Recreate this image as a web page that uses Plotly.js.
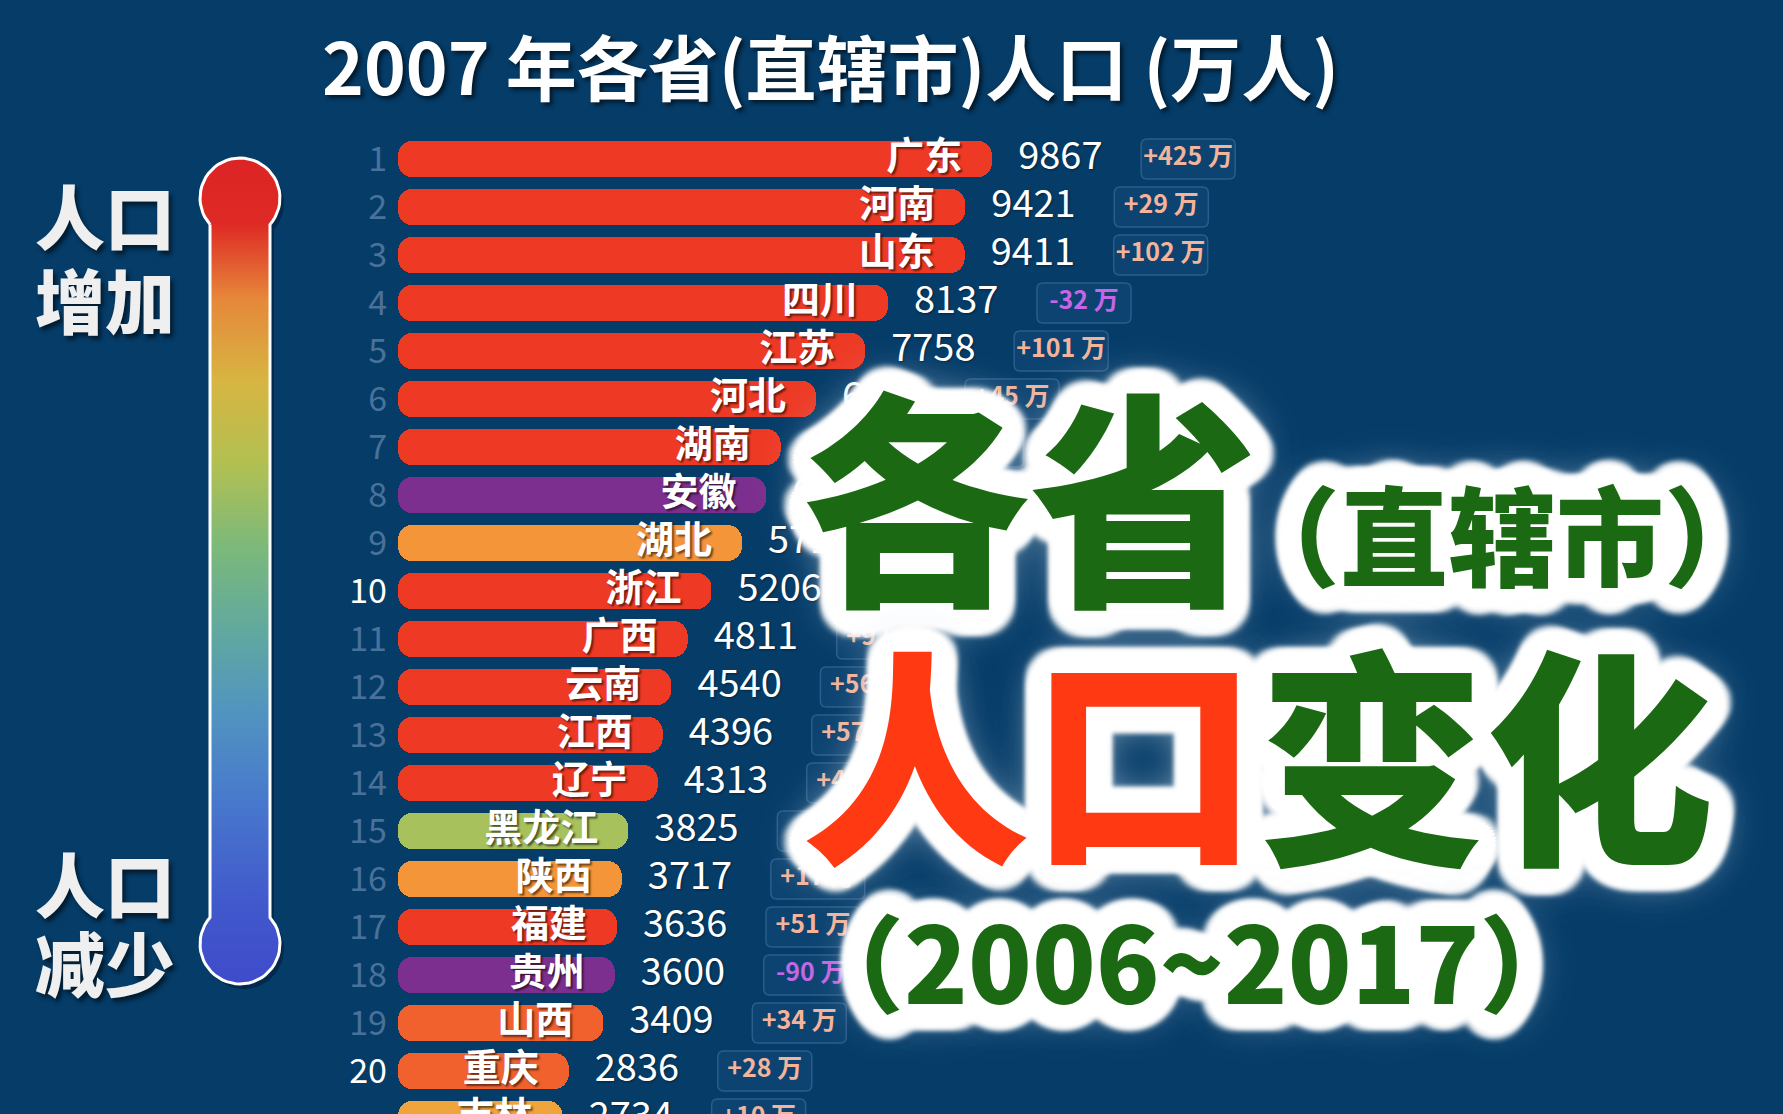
<!DOCTYPE html>
<html><head><meta charset="utf-8">
<script src="https://cdn.plot.ly/plotly-3.0.1.min.js"></script>
<style>html,body{margin:0;padding:0;background:#053c68;overflow:hidden}#chart{width:1783px;height:1114px}</style>
</head><body><div id="chart"></div>
<script>
// ---------- data ----------
const ranks = [1,2,3,4,5,6,7,8,9,10,11,12,13,14,15,16,17,18,19,20,21];
const provinces = ['广东','河南','山东','四川','江苏','河北','湖南','安徽','湖北','浙江','广西','云南','江西','辽宁','黑龙江','陕西','福建','贵州','山西','重庆','吉林'];
const population = [9867,9421,9411,8137,7758,6943,6355,6118,5711,5206,4811,4540,4396,4313,3825,3717,3636,3600,3409,2836,2734];
const change = [425,29,102,-32,101,45,13,8,18,134,92,56,57,42,2,17,51,-90,34,28,10];
const titleText = '2007 年各省(直辖市)人口 (万人)';

// ---------- style ----------
const RED='#ee3a25', PUR='#7d2f8f', ORA='#f4953a', OLV='#a7c15c', ORR='#f0612e', LOR='#f0a43c';
const barColors = [RED,RED,RED,RED,RED,RED,RED,PUR,ORA,RED,RED,RED,RED,RED,OLV,ORA,RED,PUR,ORR,ORR,LOR];
const BG = '#053c68';
const FONT = '"Noto Sans CJK SC","Noto Sans",sans-serif';
const W = 1783, H = 1114;
const X0PX = 398;                 // left edge of the bar area
const XMAX = 23000;
const PX = (W - X0PX) / XMAX;     // pixels per unit

// ---------- traces ----------
// each bar = two overlapping pieces so both ends get rounded corners
const barA = {type:'bar', orientation:'h', y:ranks, x:population.map(v => 0.7*v), base:population.map(v => 0.3*v), width:0.76,
  marker:{color:barColors, cornerradius:15, line:{width:0}}, hoverinfo:'skip', xaxis:'x', yaxis:'y'};
const barB = {type:'bar', orientation:'h', y:ranks, x:population.map(v => -0.7*v), base:population.map(v => 0.7*v), width:0.76,
  marker:{color:barColors, cornerradius:15, line:{width:0}}, hoverinfo:'skip', xaxis:'x', yaxis:'y'};

const names = {type:'scatter', mode:'text', y:ranks, x:population.map(v => v - 30/PX),
  text:provinces, textposition:'middle left', hoverinfo:'skip',
  textfont:{family:FONT, size:38, color:'#ffffff', weight:700, shadow:'2px 2px 2px rgba(0,0,0,0.55)'}};
const values = {type:'scatter', mode:'text', y:ranks, x:population.map(v => v + 26/PX),
  text:population.map(String), textposition:'middle right', hoverinfo:'skip',
  textfont:{family:FONT, size:38, color:'#ffffff', weight:400, shadow:'1px 1px 2px rgba(0,0,0,0.4)'}};
const changes = {type:'scatter', mode:'text', y:ranks, x:population.map(v => v + 196/PX),
  text:change.map(c => (c > 0 ? '+' : '') + c + ' 万'), textposition:'middle center', hoverinfo:'skip',
  textfont:{family:FONT, size:25, weight:700, color:change.map(c => c >= 0 ? '#f3b49b' : '#c566e6')}};

// legend thermometer (decorative geometry on its own pixel axes)
const cx=240, cyT=198, cyB=944, R=40, w=30, h=Math.sqrt(R*R-w*w), phi=Math.atan2(h,w);
const tx=[], ty=[];
for (let i=0;i<=40;i++){const t=(Math.PI-phi)+i*((Math.PI+2*phi)/40); tx.push(cx+R*Math.cos(t)); ty.push(cyT+R*Math.sin(t));}
for (let i=0;i<=40;i++){const t=-phi+i*((Math.PI+2*phi)/40); tx.push(cx+R*Math.cos(t)); ty.push(cyB+R*Math.sin(t));}
tx.push(tx[0]); ty.push(ty[0]);
const thermoShadow = {type:'scatter', mode:'lines', x:tx.map(v=>v+4), y:ty.map(v=>v+5), fill:'toself',
  fillcolor:'rgba(0,10,30,0.35)', line:{width:0}, xaxis:'x2', yaxis:'y2', hoverinfo:'skip'};
const thermo = {type:'scatter', mode:'lines', x:tx, y:ty, fill:'toself', xaxis:'x2', yaxis:'y2', hoverinfo:'skip',
  line:{color:'#ffffff', width:3},
  fillgradient:{type:'vertical', start:cyT-R, stop:cyB+R, colorscale:[
    [0,'#dc2424'],[0.08,'#de2a25'],[0.17,'#e6873a'],[0.27,'#d7b542'],[0.37,'#b2c052'],[0.47,'#7cb97a'],
    [0.57,'#61a99e'],[0.67,'#5194c0'],[0.78,'#4878cd'],[0.9,'#4159cc'],[1,'#3f4bcb']]}};

// ---------- boxes behind change labels ----------
function rr(x0,x1,y0,y1,r){return `M${x0+r},${y0} L${x1-r},${y0} Q${x1},${y0} ${x1},${y0+r} L${x1},${y1-r} Q${x1},${y1} ${x1-r},${y1} L${x0+r},${y1} Q${x0},${y1} ${x0},${y1-r} L${x0},${y0+r} Q${x0},${y0} ${x0+r},${y0} Z`;}
const shapes = population.map((v,i) => ({type:'path', layer:'below', xref:'x', yref:'y',
  xsizemode:'pixel', ysizemode:'pixel', xanchor:v, yanchor:ranks[i],
  path:rr(149,243,-20,20,6), fillcolor:'rgba(120,170,220,0.07)', line:{color:'#2b5d8c', width:1.5}}));

// ---------- overlay text ----------
function ring(r,n,blur,col){const a=[];for(let k=0;k<n;k++){const t=2*Math.PI*k/n;a.push(`${(r*Math.cos(t)).toFixed(1)}px ${(r*Math.sin(t)).toFixed(1)}px ${blur}px ${col}`);}return a;}
const glow = [].concat(ring(6,16,0,'#fff'), ring(12,24,0,'#fff'), ring(18,32,1,'#fff'),
  ring(24,32,6,'rgba(255,255,255,0.85)'),
  ['0 0 30px rgba(225,235,245,0.95)','0 0 45px rgba(210,225,240,0.9)','0 0 60px rgba(200,218,236,0.7)']).join(',');
const GREEN='#1b6a13', ORED='#ff3a12';
const big = [
  {t:'各省', x:1030, y:490, s:228},
  {t:'（直辖市）', x:1502, y:531, s:108},
  {t:'人口变化', x:1258, y:748, s:228, rich:`<span style="color:${ORED}">人口</span>变化`},
  {t:'（2006~2017）', x:1192, y:958, s:105},
];
const ann = [];
big.forEach(b => ann.push({xref:'paper', yref:'paper', x:b.x/W, y:1-b.y/H, xanchor:'center', yanchor:'middle',
  showarrow:false, text:b.t, font:{family:FONT, size:b.s, weight:900, color:'#ffffff', shadow:glow}}));
big.forEach(b => ann.push({xref:'paper', yref:'paper', x:b.x/W, y:1-b.y/H, xanchor:'center', yanchor:'middle',
  showarrow:false, text:b.rich || b.t, font:{family:FONT, size:b.s, weight:900, color:GREEN}}));

// title
ann.unshift({xref:'paper', yref:'paper', x:830/W, y:1-64/H, xanchor:'center', yanchor:'middle', showarrow:false,
  text:titleText, font:{family:FONT, size:71, weight:700, color:'#ffffff', shadow:'3px 3px 4px rgba(0,0,0,0.6)'}});
// legend labels
[['人口',214],['增加',298],['人口',882],['减少',961]].forEach(([t,py]) => ann.unshift({xref:'paper', yref:'paper',
  x:105/W, y:1-py/H, xanchor:'center', yanchor:'middle', showarrow:false, text:t,
  font:{family:FONT, size:70, weight:900, color:'#efefef', shadow:'3px 4px 4px rgba(0,0,0,0.55)'}}));

const layout = {
  width:W, height:H, margin:{l:0,r:0,t:0,b:0}, paper_bgcolor:BG, plot_bgcolor:BG,
  showlegend:false, barmode:'overlay', bargap:0,
  xaxis:{domain:[X0PX/W,1], range:[0,XMAX], visible:false, fixedrange:true},
  yaxis:{domain:[0,1], range:[1+(H-159)/48, 1-159/48], tickvals:ranks.slice(0,20),
    ticktext:ranks.slice(0,20).map(r => r%10===0 ? `<span style="color:#ffffff">${r}</span>` : String(r)),
    tickfont:{family:FONT, size:34, color:'#4a7199'}, ticks:'', ticklabelstandoff:10,
    showgrid:false, zeroline:false, showline:false, fixedrange:true},
  xaxis2:{domain:[0,0.2], range:[0,0.2*W], visible:false, anchor:'y2', fixedrange:true},
  yaxis2:{domain:[0,1], range:[H,0], visible:false, anchor:'x2', fixedrange:true},
  shapes:shapes, annotations:ann
};
Plotly.newPlot('chart', [thermoShadow, thermo, barA, barB, names, values, changes], layout, {staticPlot:true, displayModeBar:false});
</script></body></html>
